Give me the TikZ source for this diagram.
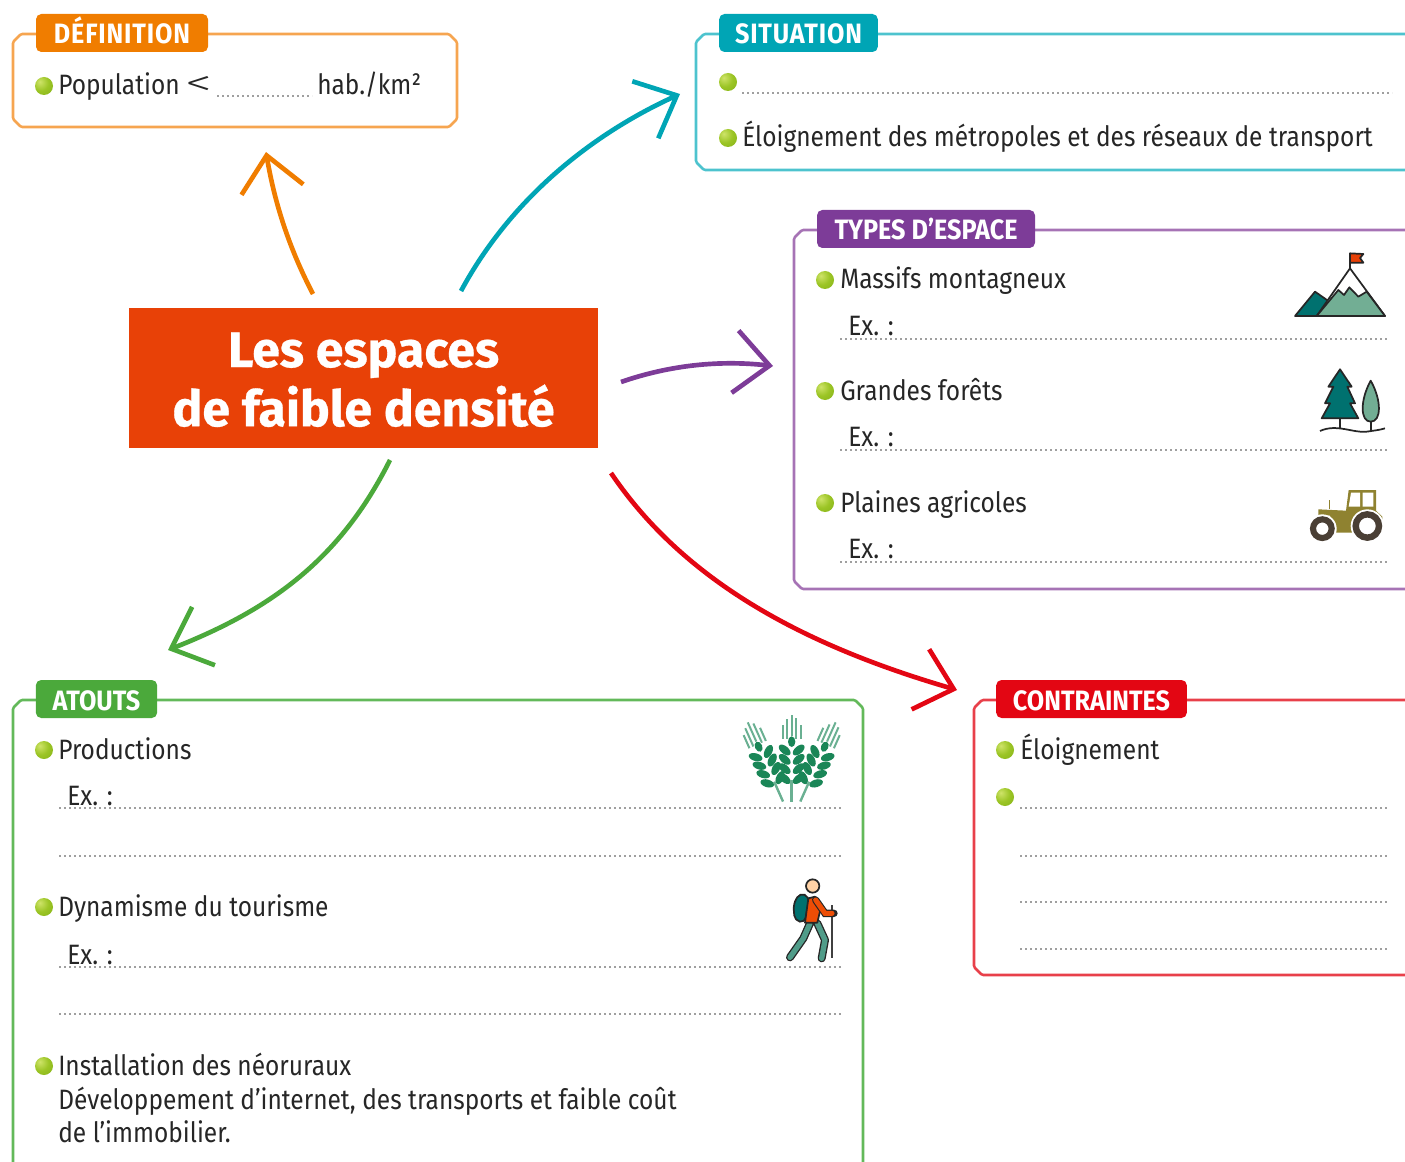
\documentclass[tikz,border=0pt]{standalone}
\usepackage{fontspec}
\usetikzlibrary{arrows.meta}
\setmainfont{Fira Sans}
\newfontface\bodyf[FakeStretch=0.875]{Fira Sans}
\newfontface\ltf[FakeStretch=1.5]{Fira Sans Light}
\newfontface\tagf[FakeStretch=0.90]{Fira Sans Bold}
\newfontface\tagwide[FakeStretch=0.90,LetterSpace=3]{Fira Sans Bold}
\newfontface\titlef[FakeBold=0.6]{Fira Sans Bold}
\definecolor{corange}{HTML}{F07D00}\definecolor{lorange}{HTML}{F6A550}
\definecolor{cteal}{HTML}{00A5B5}\definecolor{lteal}{HTML}{4DC3CE}
\definecolor{cpurple}{HTML}{7D3C98}\definecolor{lpurple}{HTML}{A673B5}
\definecolor{cgreen}{HTML}{4BA93B}\definecolor{lgreen}{HTML}{63B95A}
\definecolor{cred}{HTML}{E30613}\definecolor{lred}{HTML}{E8404A}
\definecolor{ctitle}{HTML}{E84107}\definecolor{ink}{HTML}{262626}
\definecolor{ballhi}{HTML}{CFE46A}\definecolor{ballmid}{HTML}{9CC526}\definecolor{ballout}{HTML}{7FAE14}
\definecolor{dteal}{HTML}{00716F}
\definecolor{lsage}{HTML}{72AE94}\definecolor{olive}{HTML}{8F8230}
\definecolor{wheel}{HTML}{4A3F35}\definecolor{wheat}{HTML}{1A8657}
\pgfdeclareradialshading{greenball}{\pgfpoint{-12bp}{12bp}}{color(0bp)=(ballhi);color(22bp)=(ballmid);color(50bp)=(ballout);color(100bp)=(ballout)}
\tikzset{x=0.75pt,y=-0.75pt,
 boxline/.style={line width=1.9pt,rounded corners=1pt},
 tagbox/.style={rounded corners=4pt,inner sep=0pt,text=white,text height=16.5pt,text depth=0pt,font=\tagf\fontsize{21}{21}\selectfont},
 txt/.style={anchor=base west,inner sep=0pt,xshift=-0.75pt,text=ink,font=\bodyf\fontsize{21}{25}\selectfont},
 dots/.style={line width=1.2pt,color=gray!75,dash pattern=on 1.2pt off 2.55pt},
 conn/.style={line width=3.5pt,-{Straight Barb[length=26pt,width=47pt,line width=3.5pt]}},
 sk/.style={draw=black!85,line width=1.3pt,line join=round}}
\newcommand{\chbox}[5]{\draw[boxline,#1] (#2+8,#3) -- (#4-8,#3) -- (#4,#3+8) -- (#4,#5-8) -- (#4-8,#5) -- (#2+8,#5) -- (#2,#5-8) -- (#2,#3+8) -- cycle;}
\newcommand{\bul}[2]{\shade[shading=greenball] (#1,#2) circle[radius=9];}
\newcommand{\dotl}[3]{\draw[dots] (#1,#3) -- (#2,#3);}
\newcommand{\grainpair}[1]{%
 \fill[wheat,rotate around={-40:(164,#1)}] (164,#1) ellipse[x radius=21,y radius=11.5];
 \fill[wheat,rotate around={40:(206,#1)}] (206,#1) ellipse[x radius=21,y radius=11.5];}
\newcommand{\ear}{%
 \grainpair{150}\grainpair{178}\grainpair{206}\grainpair{236}
 \fill[wheat] (185,125) ellipse[x radius=11,y radius=16];
 \draw[wheat!65!white,line width=1.5pt] (185,45)--(185,108) (171,58)--(171,118) (199,55)--(199,118) (158,75)--(158,118) (212,75)--(212,118);
 \draw[wheat!65!white,line width=1.8pt] (185,240)--(185,305);}
\begin{document}
\begin{tikzpicture}
\useasboundingbox (0,0) rectangle (1405,1162);
\clip (0,0) rectangle (1405,1162);
% boxes
\chbox{lorange}{13}{34}{457}{127}
\chbox{lteal}{696}{34}{1425}{170}
\chbox{lpurple}{794}{230}{1425}{589}
\chbox{lgreen}{13}{700}{863}{1185}
\chbox{lred}{974}{700}{1425}{975}
% tags
\node[tagbox,fill=corange,minimum width=129pt,minimum height=28.5pt] (tdef) at (122,33) {\tagwide DÉFINITION};
\node[tagbox,fill=cteal,minimum width=119pt,minimum height=28.5pt] (tsit) at (798.5,33) {\tagwide SITUATION};
\node[tagbox,fill=cpurple,minimum width=163.5pt,minimum height=28.5pt] (ttyp) at (926,229) {TYPES D’ESPACE};
\node[tagbox,fill=cgreen,minimum width=91pt,minimum height=28.5pt] (tato) at (96.5,699) {ATOUTS};
\node[tagbox,fill=cred,minimum width=143pt,minimum height=28.5pt] (tcon) at (1091.5,699) {CONTRAINTES};
% title
\node[fill=ctitle,minimum width=351.75pt,minimum height=105pt,inner sep=0pt,text=white,
 font=\titlef\fontsize{37.5}{43.5}\selectfont] (title) at (363.5,378) {\begin{tabular}{@{}c@{}}\rule{0pt}{41pt}Les espaces\\de faible densité\end{tabular}};
% arrow ends
\coordinate (edef) at (266,152);
\coordinate (esit) at (680,94);
\coordinate (etyp) at (773,366);
\coordinate (eato) at (168,650);
\coordinate (econ) at (957,690);
\coordinate (sdef) at (313,294);
\coordinate (ssit) at (461,291);
\coordinate (styp) at (621,382);
\coordinate (sato) at (390,460);
\coordinate (scon) at (611,473);
\draw[conn,corange] (sdef) .. controls (290,250) and (275,205) .. (edef);
\draw[conn,cteal] (ssit) .. controls (510,200) and (590,135) .. (esit);
\draw[conn,cpurple] (styp) .. controls (670,365) and (720,360) .. (etyp);
\draw[conn,cgreen] (sato) .. controls (340,560) and (270,610) .. (eato);
\draw[conn,cred] (scon) .. controls (690,590) and (820,650) .. (econ);
% definition
\bul{44}{86}
\node[txt] (a1) at (59,95) {Population};
\node[txt,font=\ltf\fontsize{27}{27}\selectfont] (a1b) at (186,96) {<};
\dotl{217}{312}{96}
\node[txt] (a2) at (318,95) {hab./km²};
% situation
\bul{728}{82}
\dotl{742}{1392}{93}
\bul{728}{138}
\node[txt] (b1) at (743,147) {Éloignement des métropoles et des réseaux de transport};
% types
\bul{825}{280}
\node[txt] (c1) at (841,289) {Massifs montagneux};
\node[txt] (c2) at (849,335) {Ex. :};
\dotl{840}{1388}{339}
\bul{825}{391}
\node[txt] (c3) at (841,400) {Grandes forêts};
\node[txt] (c4) at (849,446) {Ex. :};
\dotl{840}{1388}{450}
\bul{825}{503}
\node[txt] (c5) at (841,512) {Plaines agricoles};
\node[txt] (c6) at (849,558) {Ex. :};
\dotl{840}{1388}{562}
% atouts
\bul{44}{750}
\node[txt] (d1) at (59,759) {Productions};
\node[txt] (d2) at (68,805) {Ex. :};
\dotl{59}{841}{808}
\dotl{59}{841}{856}
\bul{44}{907}
\node[txt] (d3) at (59,916) {Dynamisme du tourisme};
\node[txt] (d4) at (68,964) {Ex. :};
\dotl{59}{841}{967}
\dotl{59}{841}{1014}
\bul{44}{1066}
\node[txt] (d5) at (59,1075) {Installation des néoruraux};
\node[txt] (d6) at (59,1109) {Développement d’internet, des transports et faible coût};
\node[txt] (d7) at (59,1142) {de l’immobilier.};
% contraintes
\bul{1005}{750}
\node[txt] (e1) at (1021,759) {Éloignement};
\bul{1005}{797}
\dotl{1020}{1388}{808}
\dotl{1020}{1388}{856}
\dotl{1020}{1388}{902}
\dotl{1020}{1388}{949}
% mountain, tree, tractor
\begin{scope}[shift={(1270,240)},x=0.25pt,y=-0.25pt]
 \draw[sk,fill=dteal] (75,228)--(135,155)--(178,185)--(140,228)--cycle;
 \draw[sk,fill=white] (140,228)--(240,85)--(345,228)--cycle;
 \draw[sk,fill=lsage] (140,228)--(205,150)--(222,165)--(238,142)--(265,170)--(290,155)--(345,228)--cycle;
 \draw[sk] (240,85)--(240,40);
 \draw[sk,fill=ctitle] (240,40)--(280,42)--(270,54)--(280,68)--(240,68)--cycle;
 \draw[sk,fill=dteal] (210,388)--(245,440)--(232,440)--(255,490)--(240,490)--(265,535)--(155,535)--(180,490)--(165,490)--(190,440)--(175,440)--cycle;
 \draw[sk] (210,535)--(210,565) (302,545)--(302,572);
 \draw[sk,fill=lsage] (302,422) .. controls (270,480) and (270,545) .. (302,545) .. controls (335,545) and (335,480) .. (302,422) -- cycle;
 \draw[sk,line width=1.3pt] (150,573) .. controls (200,550) and (250,580) .. (290,575) .. controls (310,572) and (330,570) .. (345,565);
 \fill[olive] (228,812)--(236,750)--(318,750)--(318,812)--(337,830)--(337,862)--(245,878)--(195,878)--(180,827)--(145,827)--(145,808)--cycle;
 \fill[white] (243,758)--(270,758)--(270,800)--(236,800)--cycle (278,758)--(310,758)--(310,800)--(278,800)--cycle;
 \draw[olive,line width=1.2pt] (178,808)--(178,780);
 \fill[white] (157,866) circle[radius=43] (292,858) circle[radius=50];
 \draw[wheel,line width=4.6pt] (157,866) circle[radius=28];
 \draw[wheel,line width=4.8pt] (292,858) circle[radius=35];
\end{scope}
% wheat, hiker
\begin{scope}[shift={(730,700)},x=0.25pt,y=-0.25pt]
 \begin{scope} \ear \end{scope}
 \begin{scope}[xshift=-7pt,rotate around={24:(185,300)}] \ear \end{scope}
 \begin{scope}[xshift=7pt,rotate around={-24:(185,300)}] \ear \end{scope}
 \draw[black!75,line width=1.6pt] (305,615)--(305,775);
 \draw[sk,fill=dteal,rounded corners=4pt] (210,578)--(238,590)--(225,668)--(194,662)--(190,612)--cycle;
 \draw[black!85,line width=6pt,line join=round,line cap=round] (240,670)--(220,715)--(180,772) (262,670)--(285,720)--(275,775);
 \draw[lsage!70!dteal,line width=4pt,line join=round,line cap=round] (240,670)--(220,715)--(180,772) (262,670)--(285,720)--(275,775);
 \draw[sk,fill=ctitle!80!orange] (235,595)--(255,590)--(272,625)--(262,668)--(225,668)--cycle;
 \draw[black!85,line width=5.5pt,line cap=round] (257,600)--(285,640)--(312,640);
 \draw[ctitle!80!orange,line width=3.8pt,line cap=round] (257,600)--(285,640)--(306,640);
 \draw[sk,fill=orange!35!white] (248,558) circle[radius=20];
\end{scope}
\end{tikzpicture}
\end{document}
